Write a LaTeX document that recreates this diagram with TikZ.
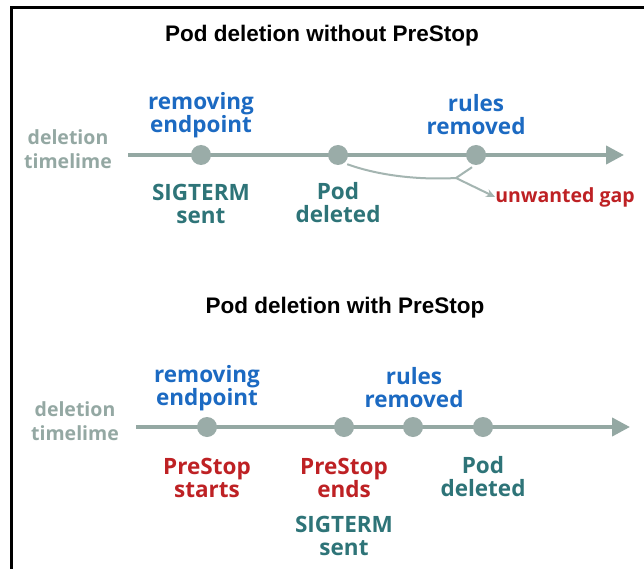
\documentclass[tikz,border=0pt]{standalone}
\usepackage{fontspec}
\setmainfont{Open Sans}
\newfontfamily\titlefont{Liberation Sans}
\usetikzlibrary{arrows.meta}
\definecolor{tlgray}{HTML}{94A8A3}
\definecolor{dotgray}{HTML}{9AACA8}
\definecolor{lblue}{HTML}{1C6AC2}
\definecolor{lteal}{HTML}{2E7478}
\definecolor{lred}{HTML}{BE2124}
\begin{document}
\begin{tikzpicture}[x=1pt,y=-1pt,
  title/.style={font=\titlefont\bfseries\fontsize{22.5}{26}\selectfont,text=black,inner sep=0pt},
  lbl/.style={font=\bfseries\fontsize{22.5}{23}\selectfont,align=center,inner sep=0pt},
  bluelbl/.style={lbl,text=lblue},
  teallbl/.style={lbl,text=lteal},
  redlbl/.style={lbl,text=lred},
  tllbl/.style={font=\bfseries\fontsize{19.5}{24}\selectfont,align=center,text=tlgray,inner sep=0pt},
  tline/.style={draw=tlgray,line width=4pt,-{Triangle[length=18pt,width=18pt]}},
  evdot/.style={circle,fill=dotgray,minimum size=20pt,inner sep=0pt},
  gapline/.style={draw=tlgray!85,line width=2pt}
]
\useasboundingbox (0,0) rectangle (644,569);
\fill[white] (0,0) rectangle (644,569);
\draw[black,line width=3pt] (646,8) -- (11.5,8) -- (11.5,571);

% ---------- top part ----------
\node[title] (t1) at (322,36) {Pod deletion without PreStop};
\node[tllbl] (tl1) at (68,149) {deletion\\timelime};
\coordinate (a1s) at (128,155);
\coordinate (a1e) at (624,155);
\draw[tline] (a1s) -- (a1e);
\node[evdot] (d11) at (201,155) {};
\node[evdot] (d12) at (338,155) {};
\node[evdot] (d13) at (476,155) {};
\node[bluelbl] (u11) at (201,115) {removing\\endpoint};
\node[bluelbl] (u13) at (476,115) {rules\\removed};
\node[teallbl] (b11) at (201,204) {SIGTERM\\sent};
\node[teallbl] (b12) at (338,203) {Pod\\deleted};
\node[redlbl,font=\bfseries\fontsize{19.5}{22}\selectfont] (gap) at (565,197) {unwanted gap};
\coordinate (gm) at (456,178);
\draw[gapline] (d12.south east) ++(2,2) .. controls (380,176) and (420,180) .. (gm);
\draw[gapline] (d13.south) ++(-4,2) -- (gm);
\draw[gapline,-{Stealth[length=9pt,width=8pt]}] (gm) -- (gap.west);

% ---------- bottom part ----------
\node[title] (t2) at (345,308) {Pod deletion with PreStop};
\node[tllbl] (tl2) at (75,421) {deletion\\timelime};
\coordinate (a2s) at (136,427);
\coordinate (a2e) at (630,427);
\draw[tline] (a2s) -- (a2e);
\node[evdot] (d21) at (207,427) {};
\node[evdot] (d22) at (344,427) {};
\node[evdot] (d23) at (413,427) {};
\node[evdot] (d24) at (483,427) {};
\node[bluelbl] (u21) at (207,388) {removing\\endpoint};
\node[bluelbl] (u23) at (414,388) {rules\\removed};
\node[redlbl] (b21) at (207,478) {PreStop\\starts};
\node[redlbl] (b22) at (344,478) {PreStop\\ends};
\node[teallbl] (b24) at (483,477) {Pod\\deleted};
\node[teallbl] (b22b) at (344,536) {SIGTERM\\sent};
\end{tikzpicture}
\end{document}
